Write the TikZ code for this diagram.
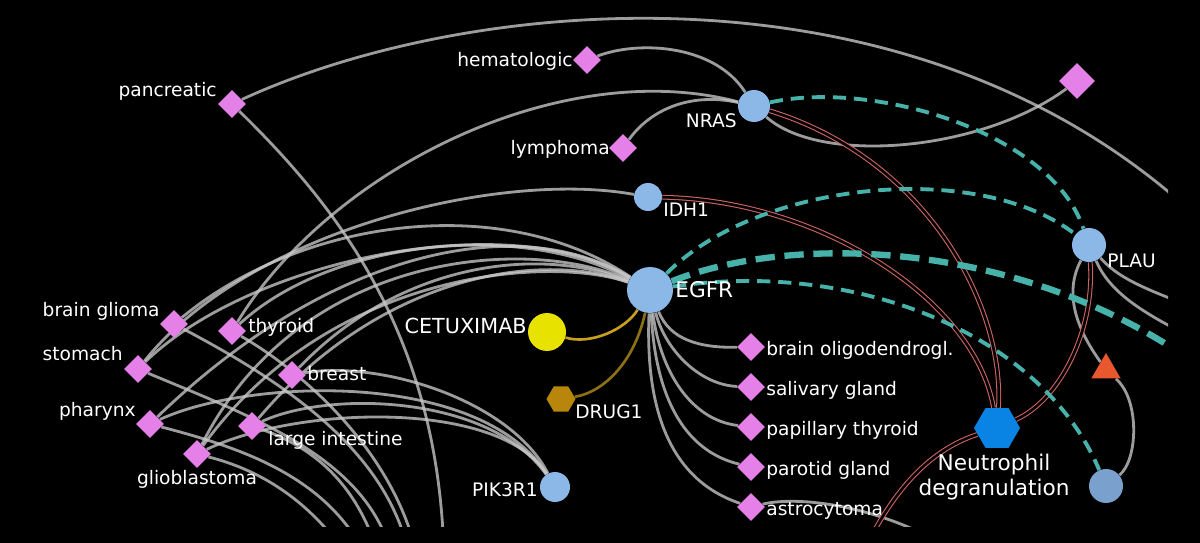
\documentclass[tikz,border=0pt]{standalone}
\usepackage{fontspec}
\setmainfont{DejaVu Sans}
\usetikzlibrary{shapes.geometric}
\pgfdeclarelayer{bgfill}
\pgfdeclarelayer{edges}
\pgfsetlayers{bgfill,edges,main}
\definecolor{dia}{RGB}{228,128,232}
\definecolor{genec}{RGB}{140,184,232}
\definecolor{cetc}{RGB}{232,226,0}
\definecolor{drugc}{RGB}{184,134,11}
\definecolor{neuc}{RGB}{10,132,228}
\definecolor{tric}{RGB}{232,87,45}
\definecolor{stcc}{RGB}{122,160,205}
\definecolor{edgegray}{RGB}{200,200,200}
\definecolor{tealc}{RGB}{70,178,170}
\definecolor{redc}{RGB}{208,100,100}
\definecolor{goldc}{RGB}{200,160,30}
\definecolor{golddk}{RGB}{140,112,20}
\begin{document}
\begin{tikzpicture}[x=0.02cm,y=-0.02cm,
  dis/.style={diamond, fill=dia, minimum size=0.56cm, inner sep=0pt, aspect=1},
  gene/.style={circle, fill=genec, inner sep=0pt},
  lab/.style={text=white, font=\fontsize{10.6}{12}\selectfont, inner sep=0pt},
  blab/.style={text=white, font=\fontsize{12.3}{14.2}\selectfont, inner sep=0pt},
  gedge/.style={draw=edgegray, draw opacity=0.78, line width=1.6pt},
  tedge/.style={draw=tealc, line width=2.2pt, dash pattern=on 7.5pt off 4.5pt},
  tthick/.style={draw=tealc, line width=3.6pt, dash pattern=on 11pt off 5.5pt},
  redge/.style={draw=redc, line width=0.6pt, double=black, double distance=1.5pt},
  gold/.style={draw=goldc, line width=1.5pt},
  golddark/.style={draw=golddk, line width=1.5pt}]
\begin{pgfonlayer}{bgfill}
\fill[black] (0,0) rectangle (1200,543);
\end{pgfonlayer}
\useasboundingbox (0,0) rectangle (1200,543);
% disease nodes
\node[dis] (pan) at (232,104) {};
\node[dis] (hem) at (587,60) {};
\node[dis] (lym) at (623,148) {};
\node[dis, minimum size=0.72cm] (trd) at (1077,81) {};
\node[dis] (brg) at (174,324) {};
\node[dis] (thy) at (232,331) {};
\node[dis] (sto) at (138,369) {};
\node[dis] (bre) at (292,375) {};
\node[dis] (pha) at (150,424) {};
\node[dis] (lgi) at (252,426) {};
\node[dis] (glb) at (197,454) {};
\node[dis] (bod) at (751,347) {};
\node[dis] (sal) at (751,387) {};
\node[dis] (pap) at (751,427) {};
\node[dis] (par) at (751,467) {};
\node[dis] (ast) at (751,507) {};
% genes
\node[gene, minimum size=0.64cm] (nras) at (754,106) {};
\node[gene, minimum size=0.56cm] (idh) at (648,197) {};
\node[gene, minimum size=0.92cm] (egfr) at (650,290) {};
\node[gene, minimum size=0.68cm] (plau) at (1089,245) {};
\node[gene, minimum size=0.60cm] (pik) at (555,487) {};
\node[circle, fill=cetc, inner sep=0pt, minimum size=0.76cm] (cet) at (547,332) {};
\node[regular polygon, regular polygon sides=6, fill=drugc, inner sep=0pt, minimum size=0.58cm] (drug) at (561,399) {};
\node[regular polygon, regular polygon sides=6, fill=neuc, inner sep=0pt, minimum size=0.92cm] (neu) at (997,428) {};
\node[regular polygon, regular polygon sides=3, fill=tric, inner sep=0pt, minimum size=0.68cm] (tri) at (1106,370) {};
\node[circle, fill=stcc, inner sep=0pt, minimum size=0.68cm] (stc) at (1106,486) {};
% off-screen ends
\coordinate (oR1) at (1230,250);
\coordinate (oR2) at (1230,390);
\coordinate (oR3) at (1230,320);
\coordinate (oR4) at (1230,355);
\coordinate (b1) at (350,560);
\coordinate (b2) at (368,560);
\coordinate (b3) at (380,560);
\coordinate (b4) at (393,560);
\coordinate (b5) at (410,560);
\coordinate (b6) at (418,560);
\coordinate (bB) at (444,560);
\coordinate (b7) at (990,575);
\coordinate (b8) at (855,570);
% labels
\node[lab, anchor=base east] (tpan) at (217,97) {pancreatic};
\node[lab, anchor=base east] (them) at (573,67) {hematologic};
\node[lab, anchor=base east] (tlym) at (610,155) {lymphoma};
\node[lab, anchor=base east] (tnras) at (737,128) {NRAS};
\node[lab, anchor=base west] (tidh) at (663,217) {IDH1};
\node[blab, anchor=base west] (tegfr) at (675,298) {EGFR};
\node[lab, anchor=base west] (tplau) at (1107,268) {PLAU};
\node[blab, font=\fontsize{11.8}{14}\selectfont, anchor=base east] (tcet) at (527,334) {CETUXIMAB};
\node[lab, anchor=base west] (tdrug) at (575,419) {DRUG1};
\node[lab, anchor=base east] (tpik) at (538,497) {PIK3R1};
\node[blab, align=center, anchor=north] (tneu) at (994,454) {Neutrophil\\degranulation};
\node[lab, anchor=base east] (tbrg) at (160,317) {brain glioma};
\node[lab, anchor=base west] (tthy) at (248,333) {thyroid};
\node[lab, anchor=base east] (tsto) at (123,361) {stomach};
\node[lab, anchor=base west] (tbre) at (307,381) {breast};
\node[lab, anchor=base east] (tpha) at (136,417) {pharynx};
\node[lab, anchor=base west] (tlgi) at (268,446) {large intestine};
\node[lab, anchor=base] (tglb) at (197,485) {glioblastoma};
\node[lab, anchor=base west] (tbod) at (766,356) {brain oligodendrogl.};
\node[lab, anchor=base west] (tsal) at (766,396) {salivary gland};
\node[lab, anchor=base west] (tpap) at (766,436) {papillary thyroid};
\node[lab, anchor=base west] (tpar) at (766,476) {parotid gland};
\node[lab, anchor=base west] (tast) at (766,516) {astrocytoma};
% edges
\begin{pgfonlayer}{edges}
\begin{scope}
\clip (0,0) rectangle (1168,527);
\draw[gedge] (pan) .. controls (480,-10) and (950,-50) .. (oR1);
\draw[gedge] (pan) .. controls (330,200) and (440,330) .. (bB);
\draw[gedge] (hem) .. controls (640,40) and (715,45) .. (nras);
\draw[gedge] (lym) .. controls (650,110) and (690,92) .. (nras);
\draw[gedge] (thy) .. controls (330,170) and (560,55) .. (nras);
\draw[gedge] (nras) .. controls (820,165) and (980,152) .. (trd);
\draw[gedge] (idh) .. controls (500,170) and (250,230) .. (sto);
\draw[gedge] (egfr) .. controls (500,190) and (300,220) .. (brg);
\draw[gedge] (egfr) .. controls (510,205) and (250,260) .. (sto);
\draw[gedge] (egfr) .. controls (520,210) and (330,250) .. (pha);
\draw[gedge] (egfr) .. controls (520,220) and (330,240) .. (thy);
\draw[gedge] (egfr) .. controls (530,235) and (300,250) .. (glb);
\draw[gedge] (egfr) .. controls (540,245) and (400,262) .. (bre);
\draw[gedge] (egfr) .. controls (540,250) and (380,275) .. (lgi);
\draw[gedge] (egfr) .. controls (550,255) and (330,270) .. (glb);
\draw[gedge] (bre) .. controls (380,360) and (510,400) .. (pik);
\draw[gedge] (pha) .. controls (250,378) and (480,370) .. (pik);
\draw[gedge] (lgi) .. controls (330,390) and (490,395) .. (pik);
\draw[gedge] (glb) .. controls (300,405) and (500,400) .. (pik);
\draw[gedge] (glb) .. controls (260,470) and (310,500) .. (b1);
\draw[gedge] (pha) .. controls (250,450) and (330,480) .. (b2);
\draw[gedge] (lgi) .. controls (320,450) and (360,490) .. (b3);
\draw[gedge] (sto) .. controls (260,420) and (370,460) .. (b4);
\draw[gedge] (brg) .. controls (280,380) and (390,450) .. (b5);
\draw[gedge] (thy) .. controls (300,370) and (395,450) .. (b6);
\draw[gedge] (egfr) .. controls (670,340) and (700,348) .. (bod);
\draw[gedge] (egfr) .. controls (665,350) and (700,385) .. (sal);
\draw[gedge] (egfr) .. controls (660,370) and (690,420) .. (pap);
\draw[gedge] (egfr) .. controls (655,390) and (680,450) .. (par);
\draw[gedge] (egfr) .. controls (645,410) and (670,480) .. (ast);
\draw[gedge] (ast) .. controls (800,495) and (900,505) .. (b7);
\draw[gedge] (plau) .. controls (1120,280) and (1150,292) .. (oR3);
\draw[gedge] (plau) .. controls (1110,292) and (1140,315) .. (oR4);
\draw[gedge] (plau) .. controls (1060,300) and (1085,340) .. (tri);
\draw[gedge] (tri) .. controls (1140,400) and (1138,460) .. (stc);
\draw[gold] (egfr) .. controls (625,330) and (590,345) .. (cet);
\draw[golddark] (egfr) .. controls (635,360) and (605,392) .. (drug);
\draw[redge] (nras) .. controls (930,160) and (1005,310) .. (neu);
\draw[redge] (idh) .. controls (820,200) and (975,300) .. (neu);
\draw[redge] (plau) .. controls (1095,330) and (1060,400) .. (neu);
\draw[redge] (neu) .. controls (930,450) and (890,490) .. (b8);
\draw[tedge] (nras) .. controls (870,80) and (1050,130) .. (plau);
\draw[tedge] (egfr) .. controls (760,180) and (980,160) .. (plau);
\draw[tthick] (egfr) .. controls (800,230) and (1050,240) .. (oR2);
\draw[tedge] (egfr) .. controls (850,260) and (1040,330) .. (stc);
\end{scope}
\end{pgfonlayer}
\end{tikzpicture}
\end{document}
